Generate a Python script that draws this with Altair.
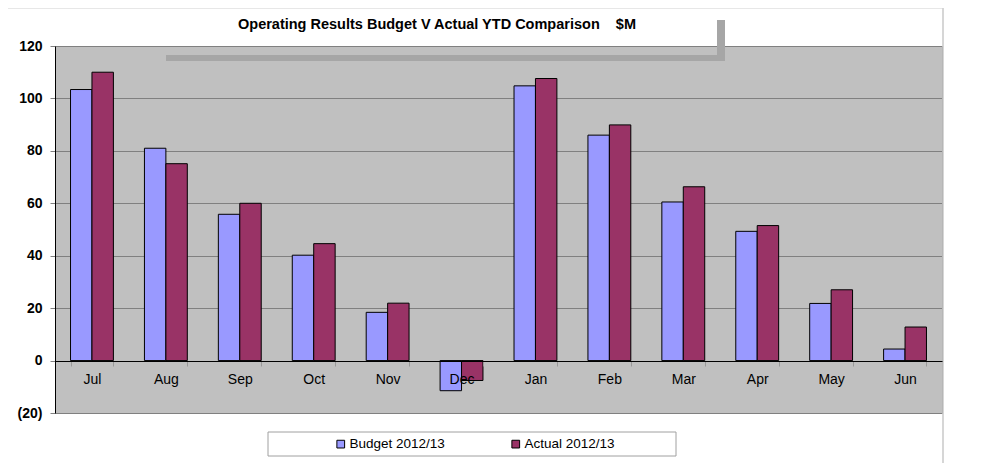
import altair as alt
import pandas as pd

months = ["Jul", "Aug", "Sep", "Oct", "Nov", "Dec", "Jan", "Feb", "Mar", "Apr", "May", "Jun"]
budget = [103.4, 81.0, 55.8, 40.2, 18.4, -11.5, 104.8, 86.0, 60.5, 49.3, 21.8, 4.4]
actual = [110.0, 75.1, 60.0, 44.6, 21.9, -7.6, 107.6, 89.9, 66.3, 51.5, 27.0, 12.8]
series = ["Budget 2012/13", "Actual 2012/13"]
colors = ["#9999FF", "#993366"]
y_ticks = [-20, 0, 20, 40, 60, 80, 100, 120]
title_text = "Operating Results Budget V Actual YTD Comparison\u00a0\u00a0\u00a0\u00a0$M"

rows = []
for m, b, a in zip(months, budget, actual):
    rows.append({"month": m, "series": series[0], "value": b})
    rows.append({"month": m, "series": series[1], "value": a})
df = pd.DataFrame(rows)

W, H = 887, 367
FONT = "Arial, Liberation Sans, sans-serif"

bars = alt.Chart(df).mark_bar(stroke="black", strokeWidth=1).encode(
    x=alt.X("month:N", sort=months,
            scale=alt.Scale(paddingInner=0.42, paddingOuter=0.21),
            axis=alt.Axis(title=None, orient="bottom", offset=-52, zindex=1,
                          domainColor="black", domainWidth=1,
                          tickColor="#999999", tickSize=5, tickBand="extent",
                          labelAngle=0, labelFont=FONT, labelFontSize=14,
                          labelColor="black", labelPadding=6, labelOverlap=False)),
    xOffset=alt.XOffset("series:N", sort=series, scale=alt.Scale(paddingInner=0, paddingOuter=0)),
    y=alt.Y("value:Q", scale=alt.Scale(domain=[-20, 120], nice=False, zero=False),
            axis=alt.Axis(title=None, values=y_ticks, grid=True, gridColor="#808080",
                          gridWidth=1, domainColor="black", tickColor="#808080",
                          tickSize=5, labelFont=FONT, labelFontSize=14,
                          labelFontWeight="bold", labelColor="black", labelPadding=8,
                          labelExpr="datum.value < 0 ? '(' + abs(datum.value) + ')' : datum.label")),
    color=alt.Color("series:N", sort=series,
                    scale=alt.Scale(domain=series, range=colors),
                    legend=alt.Legend(title=None, orient="none", legendX=279, legendY=391,
                                      direction="horizontal", columns=2, columnPadding=64,
                                      symbolType="square", symbolSize=60,
                                      symbolStrokeColor="black", symbolStrokeWidth=1,
                                      labelFont=FONT, labelFontSize=13.5, labelColor="black",
                                      labelOffset=2)),
)

deco = pd.DataFrame({"k": [0]})
legend_box = alt.Chart(deco).mark_rect(fill="white", stroke="#A0A0A0", strokeWidth=1).encode(
    x=alt.value(213), x2=alt.value(621), y=alt.value(386), y2=alt.value(410))
connector_h = alt.Chart(deco).mark_rect(fill="#A6A6A6").encode(
    x=alt.value(111), x2=alt.value(670), y=alt.value(9), y2=alt.value(15))
connector_v = alt.Chart(deco).mark_rect(fill="#A6A6A6").encode(
    x=alt.value(662), x2=alt.value(670), y=alt.value(-26), y2=alt.value(15))
frame_right = alt.Chart(deco).mark_rule(color="#C8C8C8", strokeWidth=1.5).encode(
    x=alt.value(888), y=alt.value(-38), y2=alt.value(421))
frame_top = alt.Chart(deco).mark_rule(color="#D0D0D0", strokeWidth=1).encode(
    x=alt.value(-47), x2=alt.value(888), y=alt.value(-38))
title = alt.Chart(pd.DataFrame({"t": [title_text]})).mark_text(
    font=FONT, fontSize=14.5, fontWeight="bold", color="black",
    align="center", baseline="middle").encode(
    text="t:N", x=alt.value(382), y=alt.value(-21))

chart = alt.layer(legend_box, frame_right, frame_top, bars, connector_h, connector_v, title).properties(
    width=W, height=H,
    autosize=alt.AutoSizeParams(type="none"),
    padding={"left": 47, "top": 38, "right": 40, "bottom": 50},
    background="white",
).configure_view(fill="#C0C0C0", stroke="#808080", strokeWidth=1)

chart.save("out.html", embed_options={"renderer": "svg", "actions": False})
